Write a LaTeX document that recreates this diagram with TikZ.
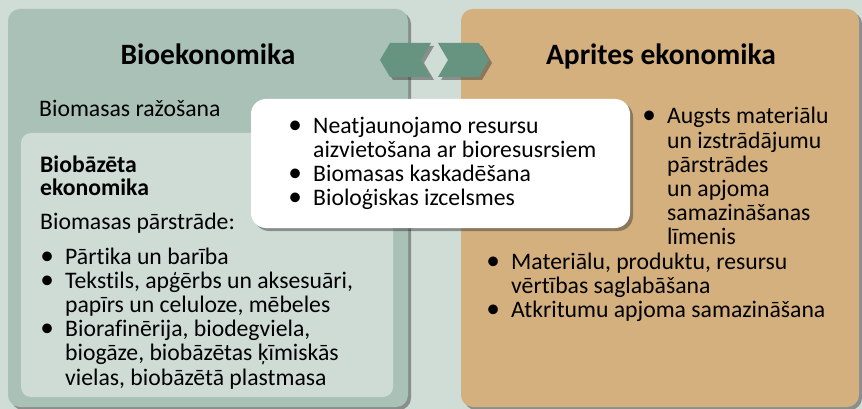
\documentclass[tikz,border=0pt]{standalone}
\usepackage{fontspec}
\setmainfont{Carlito}[Ligatures={NoCommon}]
\usetikzlibrary{shadows}

\definecolor{bgpage}{RGB}{208,220,214}
\definecolor{biogreen}{RGB}{169,193,183}
\definecolor{biolight}{RGB}{207,220,214}
\definecolor{circtan}{RGB}{212,176,126}
\definecolor{chevgreen}{RGB}{103,148,128}

\newlength{\bulletgap}
\setlength{\bulletgap}{18pt}
\newcommand{\bigbullet}{\makebox[0pt]{\scalebox{1.15}{\textbullet}}}
\newcommand{\bitem}[1]{\par\hangindent=\bulletgap\hangafter=1\noindent\bigbullet\hspace*{\bulletgap}#1\par}
\newcommand{\textcol}[1]{\parbox[t]{380pt}{\raggedright #1}}

\begin{document}
\begin{tikzpicture}[x=1pt, y=-1pt,
    boxshadow/.style={drop shadow={shadow xshift=3pt, shadow yshift=-3pt, opacity=.45, fill=black!80}},
    headline/.style={font=\fontsize{29.5}{32}\selectfont\bfseries, anchor=base, inner sep=0pt},
    bodytext/.style={font=\fontsize{23.7}{24.2}\selectfont, anchor=base west, inner sep=0pt}]
        % Page and its size
        \useasboundingbox (0,0) rectangle (862,409);
        \fill[bgpage] (0,0) rectangle (862,409);

        % Corners of the two big panels
        \coordinate (L1) at (8,9);
        \coordinate (L2) at (408,407);
        \coordinate (R1) at (461,9);
        \coordinate (R2) at (859,407);

        % Bioekonomika panel - green
        \fill[biogreen, rounded corners=12pt, boxshadow] (L1) rectangle (L2);

        % Aprites ekonomika panel - tan
        \fill[circtan, rounded corners=12pt, boxshadow] (R1) rectangle (R2);

        % Inner panel: biobazeta ekonomika
        \fill[biolight, rounded corners=10pt] (21,133) rectangle (393,397);

        % Two chevrons between the headlines
        \fill[chevgreen, boxshadow] (380,60) -- (390,43) -- (431,43) -- (421,60) -- (431,77) -- (390,77) -- cycle;
        \fill[chevgreen, boxshadow] (438,43) -- (479,43) -- (489,60) -- (479,77) -- (438,77) -- (448,60) -- cycle;

        % White overlap box in the middle
        \fill[white, rounded corners=15pt, boxshadow] (251,99) rectangle (630,228);

        % Headlines
        \node[headline] (bioTitle) at (208,65) {Bioekonomika};
        \node[headline] (circTitle) at (661,65) {Aprites ekonomika};

        % Left panel texts
        \node[bodytext] (bioProd) at (39,117) {Biomasas ražošana};
        \node[bodytext, font=\fontsize{23.7}{23.5}\selectfont\bfseries] (bioBased) at (40,172) {\textcol{Biobāzēta\\ekonomika}};
        \node[bodytext] (bioProc) at (40,229) {Biomasas pārstrāde:};
        \node[bodytext] (bioList) at (47,264) {\textcol{%
            \bitem{Pārtika un barība}
            \bitem{Tekstils, apģērbs un aksesuāri,\break papīrs un celuloze, mēbeles}
            \bitem{Biorafinērija, biodegviela,\break biogāze, biobāzētas ķīmiskās\break vielas, biobāzētā plastmasa}}};

        % Middle texts
        \node[bodytext, font=\fontsize{23.7}{23.7}\selectfont] (midList) at (295,134) {\textcol{%
            \bitem{Neatjaunojamo resursu\break aizvietošana ar bioresusrsiem}
            \bitem{Biomasas kaskadēšana}
            \bitem{Bioloģiskas izcelsmes}}};

        % Right panel texts
        \node[bodytext] (circTop) at (649,124) {\textcol{%
            \bitem{Augsts materiālu\break un izstrādājumu\break pārstrādes\break un apjoma\break samazināšanas\break līmenis}}};
        \node[bodytext] (circList) at (493,269) {\textcol{%
            \bitem{Materiālu, produktu, resursu\break vērtības saglabāšana}
            \bitem{Atkritumu apjoma samazināšana}}};
\end{tikzpicture}
\end{document}
